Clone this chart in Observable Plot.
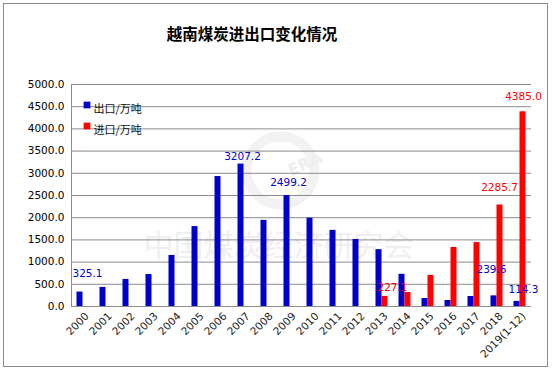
<!DOCTYPE html>
<html><head><meta charset="utf-8">
<script src="https://cdn.jsdelivr.net/npm/d3@7"></script>
<script src="https://cdn.jsdelivr.net/npm/@observablehq/plot@0.6"></script>
<style>
body{margin:0;background:#fff;}
#wrap{position:relative;width:556px;height:373px;overflow:hidden;}
#border{position:absolute;left:3px;top:3px;width:545px;height:364px;border:1.5px solid #8a8a8a;box-sizing:border-box;}
#title{position:absolute;left:0;top:22px;width:504px;text-align:center;font-family:"Noto Sans CJK SC",sans-serif;font-weight:bold;font-size:15.5px;color:#000;}
#chart{position:absolute;left:0;top:50px;}
</style></head>
<body><div id="wrap"><div id="border"></div><div id="title">越南煤炭进出口变化情况</div><div id="chart"></div></div>
<script>
const years = ["2000","2001","2002","2003","2004","2005","2006","2007","2008","2009","2010","2011","2012","2013","2014","2015","2016","2017","2018","2019(1-12)"];
const exportVals = [325.1,430,610,720,1150,1800,2927,3207.2,1940,2499.2,1990,1715,1510,1280,725,180,135,225,239.6,114.3];
const importVals = [null,null,null,null,null,null,null,null,null,null,null,null,null,227.1,315,700,1330,1440,2285.7,4385.0];
const seriesNames = ["出口/万吨","进口/万吨"];
const seriesColors = ["#0000cc","#ff0000"];
const yTicks = [0,500,1000,1500,2000,2500,3000,3500,4000,4500,5000];
const labelYears = ["2000","2007","2009","2013","2018","2019(1-12)","2018","2019(1-12)"];
const labelSeries = ["出口/万吨","出口/万吨","出口/万吨","进口/万吨","出口/万吨","出口/万吨","进口/万吨","进口/万吨"];

const rows = [];
years.forEach((y,i)=>{
  rows.push({year:y, series:seriesNames[0], value:exportVals[i]});
  if (importVals[i] != null) rows.push({year:y, series:seriesNames[1], value:importVals[i]});
});
const labels = labelYears.map((y,i)=>rows.find(r=>r.year===y && r.series===labelSeries[i]));
const exp = rows.filter(r=>r.series===seriesNames[0]);
const imp = rows.filter(r=>r.series===seriesNames[1]);
const font = "Verdana, 'DejaVu Sans', sans-serif";
const cjk = "'Noto Sans CJK SC', sans-serif";

// manual label nudges (as placed in the original chart), in label order
const nudgeX = [4.5, -1.5, -1.5, 10.5, -5.5, 3.5, 2.5, 3.5];
const nudgeY = [-18, -7, -13, -9, -26, -12, -17.5, -15];
const labelMarks = labels.map((d,i)=>Plot.text([d], {
  x: "year", y: "value", text: r=>r.value.toFixed(1),
  fill: seriesColors[seriesNames.indexOf(d.series)],
  dx: nudgeX[i], dy: nudgeY[i], fontSize: 10.5
}));

const chart = Plot.plot({
  width: 556, height: 323,
  marginTop: 34, marginBottom: 67, marginLeft: 71, marginRight: 25,
  style: {fontFamily: font, fontSize: "10.5px", color: "#000", background: "transparent"},
  x: {type: "band", domain: years, padding: 0, axis: null},
  y: {domain: [0,5000], axis: null},
  marks: [
    Plot.dot([0], {frameAnchor: "top-left", dx: 209, dy: 86, r: 34, stroke: "#f2f2f2", strokeWidth: 10, fill: "none"}),
    Plot.text(["ERA"], {frameAnchor: "top-left", dx: 231, dy: 74, text: d=>d, textAnchor: "middle", fontSize: 16, fontWeight: "bold", fill: "#eeeeee", rotate: -25}),
    Plot.text(["中国煤炭经济研究会"], {frameAnchor: "top-left", dx: 207, dy: 150, text: d=>d, textAnchor: "middle", fontSize: 30, fill: "#efefef", fontFamily: cjk}),
    Plot.ruleY(yTicks, {stroke: "#8c8c8c", strokeWidth: 1}),
    Plot.ruleX([years[0]], {x: d=>d, dx: -11.5, y1: 0, y2: 5000, stroke: "#8c8c8c"}),
    Plot.barY(exp, {x: "year", y: "value", fill: seriesColors[0], insetLeft: 5.5, insetRight: 11.5}),
    Plot.barY(imp, {x: "year", y: "value", fill: seriesColors[1], insetLeft: 11.5, insetRight: 5.5}),
    ...labelMarks,
    Plot.axisY(yTicks, {tickSize: 0, tickPadding: 7, tickFormat: d=>d.toFixed(1), fontSize: 10.5, fill: "#000", label: null}),
    Plot.axisX({tickSize: 0, tickRotate: -45, textAnchor: "end", tickPadding: 8, dx: 4, fontSize: 10.5, fill: "#222", label: null}),
    Plot.dot([seriesNames[0]], {frameAnchor: "top-left", dx: 15.5, dy: 20.5, symbol: "square", r: 3.8, fill: seriesColors[0]}),
    Plot.dot([seriesNames[1]], {frameAnchor: "top-left", dx: 15.5, dy: 41.5, symbol: "square", r: 3.8, fill: seriesColors[1]}),
    Plot.text([seriesNames[0]], {frameAnchor: "top-left", dx: 22, dy: 21, text: d=>d, textAnchor: "start", fontSize: 11, fill: "#111", fontFamily: cjk}),
    Plot.text([seriesNames[1]], {frameAnchor: "top-left", dx: 22, dy: 42, text: d=>d, textAnchor: "start", fontSize: 11, fill: "#111", fontFamily: cjk})
  ]
});
document.getElementById("chart").appendChild(chart);
</script></body></html>
